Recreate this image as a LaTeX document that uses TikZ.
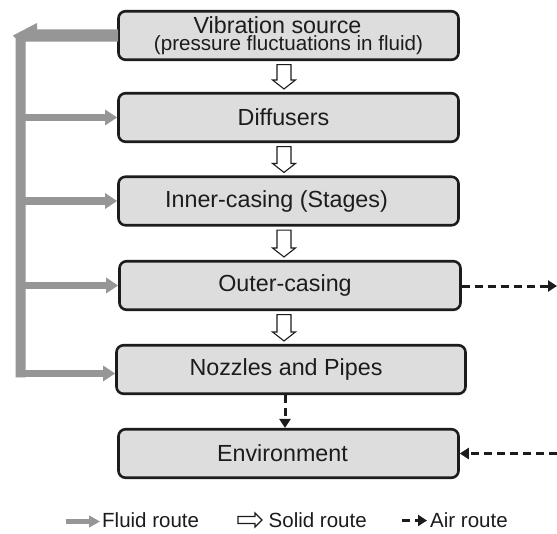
\documentclass[tikz,border=0pt]{standalone}
\usepackage{fontspec}
\setmainfont{Liberation Sans}
\usetikzlibrary{arrows.meta,calc}
\definecolor{boxfill}{RGB}{221,221,222}
\definecolor{fluid}{RGB}{150,150,150}
\definecolor{ink}{RGB}{28,28,28}

% hollow block arrow between two stacked stages
\newcommand\solidstep[2]{%
  \draw[solidroute] let \p1=(#1.south), \p2=(#2.north) in
    ({277pt},{\y1-3.5pt}) -- ({291pt},{\y1-3.5pt}) -- ({291pt},{\y2+12pt})
    -- ({295.5pt},{\y2+12pt}) -- ({284pt},{\y2+3pt}) -- ({272.5pt},{\y2+12pt})
    -- ({277pt},{\y2+12pt}) -- cycle;}

\begin{document}
\begin{tikzpicture}[x=1pt,y=-1pt,
  stage/.style={draw=ink, line width=2.6pt, fill=boxfill, rounded corners=7pt,
    minimum height=48.5pt, inner sep=0pt, text=ink, align=center,
    font=\fontsize{23.3}{16}\selectfont},
  fluidbranch/.style={draw=fluid, line width=7.5pt, -{Triangle[length=12pt,width=15pt]}},
  airroute/.style={draw=ink, line width=3pt, dash pattern=on 8pt off 5pt,
    -{Triangle[length=9pt,width=11pt]}},
  solidroute/.style={draw=ink, line width=1.1pt, fill=white, line join=miter},
  legendtext/.style={font=\fontsize{20.5}{24}\selectfont, text=ink, inner sep=0pt, anchor=base west}]

\useasboundingbox[fill=white] (0,0) rectangle (557,533);

% stages of the transmission path
\node[stage, minimum width=340pt] (src) at (288.5,35.5)
  {Vibration source\hspace*{22pt}\\[1pt] \fontsize{20.6}{16}\selectfont (pressure fluctuations in fluid)};
\node[stage, minimum width=340pt] (dif) at (288.5,117.5) {Diffusers\hspace*{10pt}};
\node[stage, minimum width=340pt] (inner) at (288.5,201) {Inner-casing (Stages)\hspace*{24pt}};
\node[stage, minimum width=341pt] (outer) at (290,285.5) {Outer-casing\hspace*{10pt}};
\node[stage, minimum width=349pt] (noz) at (291,369.5) {Nozzles and Pipes\hspace*{10pt}};
\node[stage, minimum width=340pt] (env) at (288.5,453.5) {Environment\hspace*{12pt}};

% solid route
\solidstep{src}{dif}
\solidstep{dif}{inner}
\solidstep{inner}{outer}
\solidstep{outer}{noz}

% fluid route: bus on the left fed by the source
\coordinate (busx) at (25,0);
\fill[fluid] ($(src.west)+(1,-6.2)$) -- (37,29.3) -- (37,23) -- (13,35.5)
  -- (15.5,38) -- (15.5,377.3) -- (25.5,377.3) -- (25.5,41.7)
  -- ($(src.west)+(1,6.2)$) -- cycle;
\draw[fluidbranch] (busx |- dif.west) -- (dif.west);
\draw[fluidbranch] (busx |- inner.west) -- (inner.west);
\draw[fluidbranch] (busx |- outer.west) -- (outer.west);
\draw[fluidbranch] ($(noz.west)+(-98,4)$) -- ($(noz.west)+(0,4)$);

% air route
\coordinate (airout) at (557,286);
\coordinate (airin) at (557,453.5);
\coordinate (midx) at (285,0);
\draw[airroute] (outer.east |- airout) -- (airout);
\draw[airroute] (airin) -- (env.east);
\draw[airroute] (noz.south -| midx) -- (env.north -| midx);

% legend
\coordinate (lfa) at (66,521.5);
\coordinate (lfb) at (100,521.5);
\draw[draw=fluid, line width=5.5pt, -{Triangle[length=11pt,width=11.5pt]}] (lfa) -- (lfb);
\node[legendtext] (lfluid) at (102,527.5) {Fluid route};

\coordinate (lsa) at (238,520);
\draw[solidroute] (lsa) ++(0,-3.5) -- ++(17,0) -- ++(0,-3.5) -- ++(7,7) -- ++(-7,7)
  -- ++(0,-3.5) -- ++(-17,0) -- cycle;
\node[legendtext] (lsolid) at (268.5,527.5) {Solid route};

\coordinate (laa) at (402,520.5);
\coordinate (lab) at (427,520.5);
\draw[airroute] (laa) -- (lab);
\node[legendtext] (lair) at (430,527.5) {Air route};
\end{tikzpicture}
\end{document}
